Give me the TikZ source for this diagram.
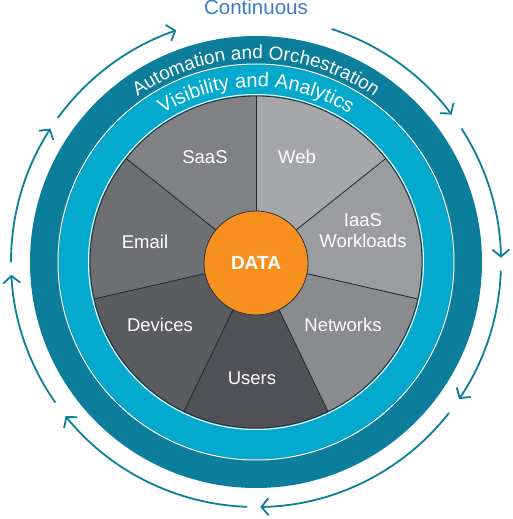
\documentclass[tikz,border=0pt]{standalone}
\usepackage{fontspec}
\setmainfont{Liberation Sans}
\usetikzlibrary{arrows.meta, decorations.text}

\definecolor{darkteal}{HTML}{0B7E9B}
\definecolor{lightteal}{HTML}{04A9CE}
\definecolor{datorange}{HTML}{F7901E}
\definecolor{contblue}{HTML}{3B7DC8}
\definecolor{webgray}{HTML}{A6A7AA}
\definecolor{saasgray}{HTML}{808185}
\definecolor{emailgray}{HTML}{6E6F72}
\definecolor{devgray}{HTML}{5B5C5F}
\definecolor{usergray}{HTML}{505257}
\definecolor{netgray}{HTML}{8A8B8E}
\definecolor{iaasgray}{HTML}{9B9C9F}

\begin{document}
\begin{tikzpicture}[x=1pt, y=1pt,
    % white labels inside the wheel
    seglbl/.style={text=white, font=\fontsize{18.5}{21}\selectfont, align=center, inner sep=0pt},
    % orange core
    core/.style={circle, draw=black!80, line width=0.8pt, fill=datorange, minimum size=104pt,
        text=white, font=\fontsize{19}{20}\selectfont\bfseries},
    % cycle arrows round the outside
    cyc/.style={draw=darkteal, line width=1.8pt, -{Straight Barb[length=7pt, width=17pt, line width=1.8pt]}},
    % divider lines between sectors
    divider/.style={draw=black!85, line width=0.8pt}
]
    \useasboundingbox (-256,-257) rectangle (256,262);

    % outer rings
    \fill[darkteal] (0,0) circle[radius=226];
    \fill[lightteal] (0,0) circle[radius=197];
    \draw[white, line width=1pt] (0,0) circle[radius=198];

    % ring texts
    \path[decorate, decoration={text along path, text align=center, text color=white,
        text={|\fontsize{19}{19}\selectfont|Automation and Orchestration}}]
        (150:203) arc[start angle=150, end angle=30, radius=203];
    \path[decorate, decoration={text along path, text align=center, text color=white,
        text={|\fontsize{20}{20}\selectfont|Visibility and Analytics}}]
        (150:175) arc[start angle=150, end angle=30, radius=175];

    % sectors
    \draw[white, line width=1pt] (0,0) circle[radius=167.5];
    \foreach \a/\col in {38.57/webgray, 90/saasgray, 141.43/emailgray, 192.86/devgray,
        244.29/usergray, 295.71/netgray, 347.14/iaasgray}
        \fill[\col] (0,0) -- (\a:166) arc[start angle=\a, end angle=\a+51.43, radius=166] -- cycle;
    \foreach \a in {38.57, 90, 141.43, 192.86, 244.29, 295.71, 347.14}
        \draw[divider] (0,0) -- (\a:166);
    \draw[divider] (0,0) circle[radius=166];

    % core
    \node[core] (data) at (0,-1) {DATA};

    % sector labels
    \node[seglbl] (saas) at (-51,105) {SaaS};
    \node[seglbl] (web) at (41,105) {Web};
    \node[seglbl] (email) at (-111,20) {Email};
    \node[seglbl] (iaas) at (107,31) {IaaS\\Workloads};
    \node[seglbl] (devices) at (-96,-63) {Devices};
    \node[seglbl] (networks) at (87,-63) {Networks};
    \node[seglbl] (users) at (-4,-116) {Users};

    % title
    \node[text=contblue, font=\fontsize{20.5}{22}\selectfont, anchor=base] (continuous) at (0,247) {Continuous};

    % cycle arrows, clockwise
    \foreach \s/\e in {144/109, 72/37, 33/1, -2/-34, -38/-89, -92/-141, -145/-177, -180/-213}
        \draw[cyc] (\s:245) arc[start angle=\s, end angle=\e, radius=245];
\end{tikzpicture}
\end{document}
